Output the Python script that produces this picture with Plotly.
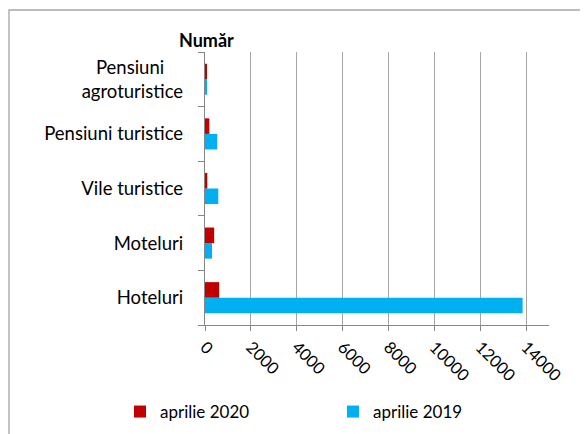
import plotly.graph_objects as go

categories = ["Hoteluri", "Moteluri", "Vile turistice", "Pensiuni turistice", "Pensiuni agroturistice"]
tick_labels = ["Hoteluri", "Moteluri", "Vile turistice", "Pensiuni turistice",
               "\u00a0\u00a0\u00a0\u00a0Pensiuni\u00a0\u00a0\u00a0\u00a0<br>agroturistice"]
apr_2020 = [620, 400, 100, 190, 80]
apr_2019 = [13850, 305, 580, 535, 50]
x_ticks = [0, 2000, 4000, 6000, 8000, 10000, 12000, 14000]
x_tick_text = ["0", "2000", "4000", "6000", "8000", "10000", "12000", "14000"]

# page body has an 8px default margin: work in figure coordinates = screen - 8
OFF = 8
W, H = 588 - OFF, 434 - OFF
L, R, T, B = 205 - OFF, 39, 52 - OFF, 109
pw, ph = W - L - R, H - T - B


def px_x(sx):
    return (sx - OFF - L) / pw


def px_y(sy):
    return (H - (sy - OFF) - B) / ph


font = "Lato"

fig = go.Figure()
fig.add_trace(go.Bar(y=categories, x=apr_2019, orientation="h", name="aprilie 2019",
                     marker=dict(color="#00B0F0", line=dict(width=0)), legendrank=2))
fig.add_trace(go.Bar(y=categories, x=apr_2020, orientation="h", name="aprilie 2020",
                     marker=dict(color="#C00000", line=dict(width=0)), legendrank=1))

fig.update_layout(
    width=W, height=H,
    margin=dict(l=L, r=R, t=T, b=B, autoexpand=False),
    paper_bgcolor="white", plot_bgcolor="white",
    barmode="group", bargap=0.43, bargroupgap=0,
    font=dict(family=font, size=16, color="#000000"),
    showlegend=True,
    legend=dict(orientation="h", x=px_x(120), xanchor="left", y=px_y(412),
                yanchor="middle", entrywidth=168, entrywidthmode="pixels",
                font=dict(size=17), itemclick=False, bgcolor="rgba(0,0,0,0)"),
    xaxis=dict(range=[0, 15000], tickvals=x_ticks, ticktext=x_tick_text, tickangle=45,
               showgrid=True, gridcolor="#A6A6A6", gridwidth=1.3,
               showline=True, linecolor="#868686", linewidth=1.3,
               ticks="outside", ticklen=5, tickcolor="#868686",
               zeroline=False, tickfont=dict(size=16.5), fixedrange=True, automargin=False),
    yaxis=dict(categoryorder="array", categoryarray=categories,
               tickvals=categories, ticktext=tick_labels,
               showline=True, linecolor="#868686", linewidth=1.3,
               ticks="outside", ticklen=6, tickcolor="#868686", tickson="boundaries",
               showgrid=False, zeroline=False, tickfont=dict(size=18.5),
               ticklabelstandoff=17, fixedrange=True, automargin=False),
    annotations=[dict(text="<b>Număr</b>", xref="paper", yref="paper",
                      x=px_x(206), y=px_y(40), xanchor="center", yanchor="middle",
                      showarrow=False, font=dict(size=18, family=font))],
    shapes=[dict(type="rect", xref="paper", yref="paper",
                 x0=px_x(9), x1=px_x(600), y0=px_y(445), y1=px_y(10),
                 line=dict(color="#A6A6A6", width=1.3), layer="below")],
)

fig.write_html("out.html")
